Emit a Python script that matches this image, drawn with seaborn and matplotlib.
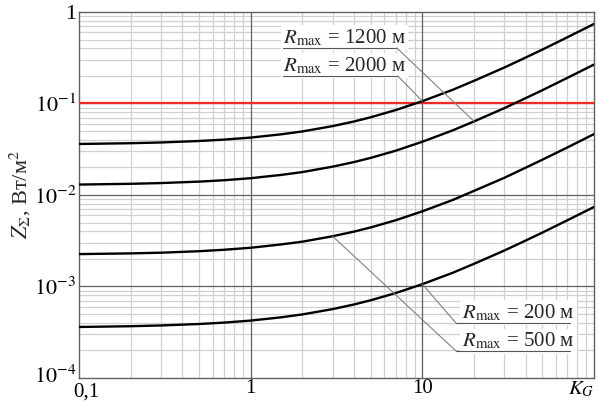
import numpy as np
import pandas as pd
import matplotlib
matplotlib.use('Agg')
import matplotlib.pyplot as plt
import matplotlib.transforms as mtransforms
import seaborn as sns

# values (log-log chart)
kg = [0.1, 0.2, 0.3, 0.5, 0.7, 1, 1.5, 2, 3, 4, 5, 7, 10, 15, 20, 30, 40, 50, 70, 100]
z_200 = [0.000361, 0.000368, 0.000375, 0.000389, 0.000403, 0.000424, 0.00046,
         0.000495, 0.000566, 0.000636, 0.000707, 0.000848, 0.00106, 0.00141,
         0.00177, 0.00247, 0.00318, 0.00388, 0.0053, 0.0074]
z_500 = [0.00226, 0.0023, 0.00234, 0.00243, 0.00252, 0.00265, 0.00288,
         0.00309, 0.00354, 0.00398, 0.00442, 0.0053, 0.00663, 0.00881,
         0.0111, 0.0154, 0.0199, 0.0243, 0.0331, 0.0463]
z_1200 = [0.0130, 0.01325, 0.0135, 0.0140, 0.0145, 0.01526, 0.01656, 0.0178,
          0.0204, 0.0229, 0.02545, 0.0305, 0.0382, 0.0508, 0.0637, 0.0889,
          0.1145, 0.1397, 0.1908, 0.2664]
z_2000 = [0.0361, 0.0368, 0.0375, 0.0389, 0.0403, 0.0424, 0.046, 0.0495,
          0.0566, 0.0636, 0.0707, 0.0848, 0.106, 0.141, 0.177, 0.247, 0.318,
          0.388, 0.53, 0.74]
r_max = [200, 500, 1200, 2000]
z_limit = 0.1

x_ticks = [0.1, 1, 10, 100]
x_labels = ['0,1', '1', '10', '$K_G$']
y_ticks = [1e-4, 1e-3, 1e-2, 1e-1, 1]
y_labels = ['$10^{-4}$', '$10^{-3}$', '$10^{-2}$', '$10^{-1}$', '1']

series = {200: z_200, 500: z_500, 1200: z_1200, 2000: z_2000}
df = pd.concat([pd.DataFrame({'K_G': kg, 'Z': series[r], 'R': r}) for r in r_max],
               ignore_index=True)

sns.set_theme(style='white')
plt.rcParams['font.family'] = ['Liberation Serif', 'DejaVu Serif']
plt.rcParams['mathtext.fontset'] = 'stix'

fig = plt.figure(figsize=(5.99, 4.01), dpi=100)
ax = fig.add_axes([0.132, 0.0574, 0.8597, 0.9127])

ax.set_xscale('log')
ax.set_yscale('log')
ax.set_xlim(0.1, 100)
ax.set_ylim(1e-4, 1)

# light minor grid, darker decade lines drawn on top of it
ax.grid(True, which='minor', color='#d0d0d0', lw=0.9)
ax.grid(False, which='major')
ax.set_axisbelow(True)
for v in x_ticks[1:-1]:
    ax.axvline(v, color='#606060', lw=0.9, zorder=1.5)
for v in y_ticks[1:-1]:
    ax.axhline(v, color='#606060', lw=0.9, zorder=1.5)

ax.axhline(z_limit, color='#ee2a24', lw=1.6, zorder=3)

sns.lineplot(data=df, x='K_G', y='Z', hue='R', palette=['black'] * 4,
             lw=1.7, legend=False, ax=ax, zorder=4)

ax.set_xticks(x_ticks)
ax.set_xticklabels(x_labels)
ax.set_yticks(y_ticks)
ax.set_yticklabels(y_labels)
ax.tick_params(which='both', length=0, colors='black')
ax.tick_params(axis='x', pad=1, labelsize=15)
ax.tick_params(axis='y', pad=2, labelsize=16)
xl = ax.get_xticklabels()
xl[-1].set_horizontalalignment('right')
# nudge "0,1" a little right/down so it clears the 10^-4 label
xl[0].set_transform(xl[0].get_transform() +
                    mtransforms.ScaledTranslation(5 / 72, -2 / 72, fig.dpi_scale_trans))
yl = ax.get_yticklabels()
yl[0].set_transform(yl[0].get_transform() +
                    mtransforms.ScaledTranslation(0, 3 / 72, fig.dpi_scale_trans))

for s in ax.spines.values():
    s.set_color('#606060')
    s.set_linewidth(1.0)

ax.set_xlabel('')
ax.set_ylabel('$Z_{\\Sigma}$, Вт/м$^2$', fontsize=16)
ax.yaxis.set_label_coords(-0.09, 0.5)

# labels with underline and leader lines
labels = [
    (1200, 0.396, 0.915, 0.902, 0.617, kg[14], z_1200[14]),
    (2000, 0.396, 0.839, 0.825, 0.619, kg[12], z_2000[12]),
    (200, 0.744, 0.164, 0.150, 0.953, kg[12], z_200[12]),
    (500, 0.744, 0.0855, 0.0738, 0.953, kg[8], z_500[8]),
]
for r, tx, ty, uy, ux1, px, py in labels:
    ax.text(tx, ty, '$R_{\\mathrm{max}}$ = %d м' % r, transform=ax.transAxes,
            fontsize=15, va='baseline', ha='left', zorder=5,
            bbox=dict(fc='white', ec='none', pad=1.5))
    if r in (1200, 2000):
        u0, u1, end = tx, ux1, ux1
    else:
        u0, u1, end = tx - 0.012, ux1, tx - 0.012
    ax.plot([u0, u1], [uy, uy], color='#555555', lw=0.8, transform=ax.transAxes,
            zorder=6)
    ax.annotate('', xy=(px, py), xycoords='data', xytext=(end, uy),
                textcoords='axes fraction',
                arrowprops=dict(arrowstyle='-', color='#808080', lw=0.8,
                                shrinkA=0, shrinkB=0), zorder=6)

fig.savefig('out.png', dpi=100)
